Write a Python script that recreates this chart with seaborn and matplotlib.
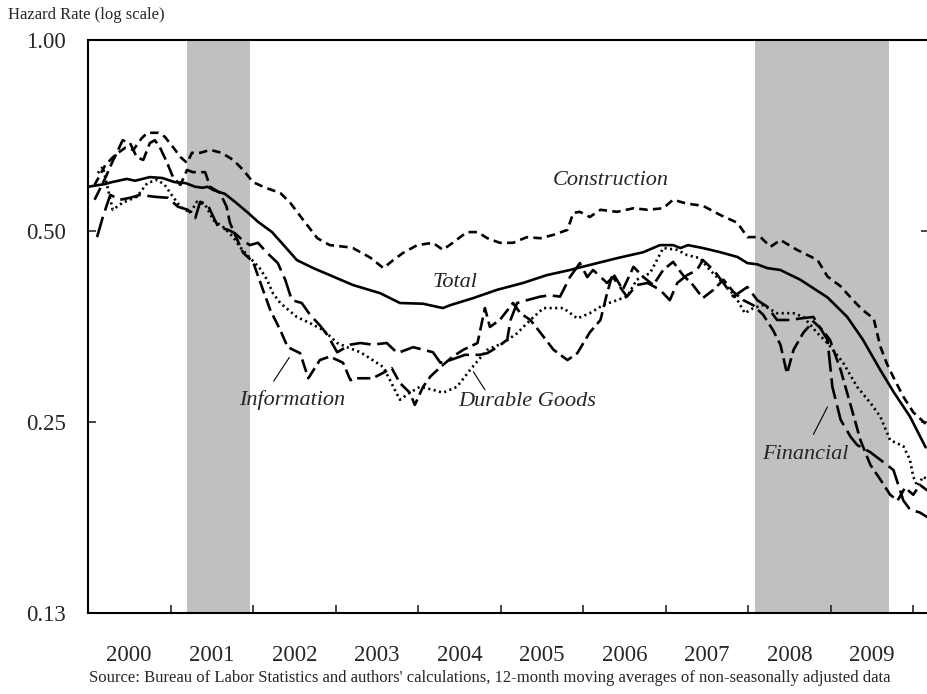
import matplotlib
matplotlib.use("Agg")
import matplotlib.pyplot as plt
import matplotlib.ticker as mticker
import pandas as pd
import seaborn as sns

# decimal years and hazard rates
total_x = [2000.00, 2000.21, 2000.29, 2000.47, 2000.57, 2000.75, 2000.90, 2001.05, 2001.18, 2001.30,
           2001.39, 2001.45, 2001.52, 2001.66, 2001.78, 2001.94, 2002.06, 2002.23, 2002.39, 2002.53,
           2002.73, 2002.93, 2003.21, 2003.54, 2003.78, 2004.06, 2004.30, 2004.39, 2004.67, 2004.96,
           2005.27, 2005.56, 2005.84, 2006.08, 2006.41, 2006.73, 2006.93, 2007.09, 2007.18, 2007.27,
           2007.45, 2007.66, 2007.87, 2007.99, 2008.11, 2008.23, 2008.39, 2008.63, 2008.96, 2009.20,
           2009.39, 2009.60, 2009.76, 2009.96, 2010.15]
total_y = [0.587, 0.593, 0.597, 0.604, 0.600, 0.608, 0.606, 0.597, 0.595, 0.587,
           0.585, 0.587, 0.580, 0.572, 0.556, 0.534, 0.517, 0.498, 0.472, 0.450,
           0.437, 0.426, 0.411, 0.399, 0.385, 0.384, 0.378, 0.382, 0.392, 0.404,
           0.414, 0.426, 0.434, 0.442, 0.453, 0.463, 0.475, 0.475, 0.470, 0.475,
           0.470, 0.463, 0.455, 0.445, 0.443, 0.437, 0.434, 0.419, 0.393, 0.366,
           0.337, 0.302, 0.279, 0.255, 0.228]

constr_x = [2000.08, 2000.21, 2000.33, 2000.45, 2000.55, 2000.65, 2000.72, 2000.85, 2000.93, 2001.03,
            2001.12, 2001.20, 2001.26, 2001.36, 2001.48, 2001.62, 2001.76, 2001.88, 2002.00, 2002.15,
            2002.33, 2002.45, 2002.61, 2002.78, 2002.93, 2003.12, 2003.21, 2003.42, 2003.58, 2003.70,
            2003.82, 2003.99, 2004.18, 2004.30, 2004.42, 2004.59, 2004.72, 2004.84, 2004.99, 2005.15,
            2005.32, 2005.48, 2005.64, 2005.81, 2005.88, 2005.96, 2006.08, 2006.21, 2006.41, 2006.61,
            2006.78, 2006.97, 2007.09, 2007.26, 2007.45, 2007.66, 2007.87, 2007.99, 2008.15, 2008.27,
            2008.39, 2008.59, 2008.84, 2008.96, 2009.12, 2009.27, 2009.39, 2009.52, 2009.60, 2009.68,
            2009.76, 2009.88, 2010.00, 2010.17]
constr_y = [0.591, 0.635, 0.659, 0.676, 0.671, 0.700, 0.714, 0.714, 0.704, 0.678,
            0.654, 0.640, 0.664, 0.664, 0.671, 0.664, 0.647, 0.624, 0.597, 0.585,
            0.574, 0.554, 0.520, 0.487, 0.475, 0.472, 0.470, 0.454, 0.437, 0.450,
            0.462, 0.475, 0.479, 0.467, 0.479, 0.498, 0.498, 0.487, 0.479, 0.479,
            0.489, 0.487, 0.493, 0.502, 0.534, 0.536, 0.526, 0.540, 0.536, 0.543,
            0.540, 0.543, 0.560, 0.552, 0.548, 0.530, 0.515, 0.489, 0.489, 0.472,
            0.484, 0.467, 0.450, 0.424, 0.409, 0.389, 0.375, 0.364, 0.329, 0.309,
            0.294, 0.274, 0.259, 0.247]

info_x = [2000.08, 2000.21, 2000.29, 2000.35, 2000.42, 2000.51, 2000.59, 2000.67, 2000.75, 2000.81,
          2000.87, 2000.96, 2001.03, 2001.12, 2001.20, 2001.27, 2001.42, 2001.48, 2001.60, 2001.68,
          2001.72, 2001.81, 2001.88, 2002.00, 2002.12, 2002.21, 2002.33, 2002.42, 2002.57, 2002.67,
          2002.81, 2002.93, 2003.09, 2003.18, 2003.26, 2003.45, 2003.58, 2003.68, 2003.78, 2003.90,
          2003.96, 2004.06, 2004.15, 2004.27, 2004.42, 2004.55, 2004.72, 2004.81, 2004.87, 2004.99,
          2005.15, 2005.24, 2005.36, 2005.48, 2005.64, 2005.81, 2005.93, 2006.08, 2006.21, 2006.29,
          2006.36, 2006.48, 2006.61, 2006.73, 2006.85, 2006.97, 2007.09, 2007.21, 2007.33, 2007.45,
          2007.58, 2007.70, 2007.82, 2007.94, 2008.06, 2008.18, 2008.30, 2008.39, 2008.47, 2008.55,
          2008.67, 2008.79, 2008.90, 2008.99, 2009.12, 2009.24, 2009.36, 2009.48, 2009.60, 2009.72,
          2009.81, 2009.90, 2010.00, 2010.08, 2010.17]
info_y = [0.560, 0.606, 0.640, 0.664, 0.695, 0.688, 0.654, 0.647, 0.688, 0.695,
          0.678, 0.640, 0.608, 0.591, 0.624, 0.619, 0.619, 0.587, 0.574, 0.546,
          0.515, 0.484, 0.462, 0.447, 0.404, 0.375, 0.349, 0.328, 0.321, 0.293,
          0.313, 0.317, 0.310, 0.291, 0.293, 0.293, 0.299, 0.304, 0.288, 0.278,
          0.266, 0.284, 0.295, 0.305, 0.317, 0.325, 0.333, 0.378, 0.353, 0.362,
          0.385, 0.371, 0.362, 0.346, 0.325, 0.313, 0.321, 0.346, 0.362, 0.399,
          0.429, 0.404, 0.439, 0.423, 0.411, 0.434, 0.447, 0.426, 0.411, 0.392,
          0.404, 0.419, 0.401, 0.389, 0.382, 0.369, 0.349, 0.331, 0.298, 0.325,
          0.346, 0.360, 0.349, 0.337, 0.302, 0.266, 0.234, 0.214, 0.203, 0.192,
          0.188, 0.197, 0.192, 0.199, 0.195]

durable_x = [2000.12, 2000.18, 2000.30, 2000.42, 2000.59, 2000.72, 2000.84, 2000.93, 2001.03, 2001.12,
             2001.24, 2001.32, 2001.42, 2001.52, 2001.64, 2001.76, 2001.84, 2001.96, 2002.08, 2002.17,
             2002.24, 2002.33, 2002.53, 2002.69, 2002.85, 2003.02, 2003.14, 2003.30, 2003.45, 2003.58,
             2003.70, 2003.78, 2003.90, 2004.02, 2004.18, 2004.30, 2004.47, 2004.63, 2004.73, 2004.84,
             2005.03, 2005.20, 2005.36, 2005.52, 2005.76, 2005.93, 2006.08, 2006.24, 2006.41, 2006.53,
             2006.65, 2006.81, 2006.97, 2007.14, 2007.26, 2007.42, 2007.50, 2007.62, 2007.75, 2007.87,
             2007.96, 2008.06, 2008.18, 2008.35, 2008.55, 2008.67, 2008.84, 2008.96, 2009.15, 2009.32,
             2009.48, 2009.60, 2009.72, 2009.88, 2009.96, 2010.00, 2010.05, 2010.12, 2010.17]
durable_y = [0.617, 0.631, 0.540, 0.554, 0.566, 0.595, 0.602, 0.591, 0.566, 0.546,
             0.534, 0.556, 0.550, 0.520, 0.507, 0.489, 0.472, 0.454, 0.437, 0.419,
             0.399, 0.385, 0.366, 0.358, 0.349, 0.333, 0.328, 0.322, 0.313, 0.305,
             0.284, 0.271, 0.278, 0.284, 0.281, 0.278, 0.284, 0.302, 0.313, 0.325,
             0.333, 0.345, 0.362, 0.378, 0.378, 0.364, 0.371, 0.382, 0.389, 0.394,
             0.419, 0.429, 0.470, 0.467, 0.458, 0.453, 0.439, 0.423, 0.408, 0.389,
             0.371, 0.378, 0.382, 0.371, 0.371, 0.366, 0.345, 0.333, 0.310, 0.284,
             0.268, 0.255, 0.234, 0.229, 0.218, 0.205, 0.198, 0.205, 0.203]

fin_x = [2000.11, 2000.18, 2000.27, 2000.39, 2000.51, 2000.63, 2000.81, 2000.97, 2001.09, 2001.21,
         2001.30, 2001.36, 2001.45, 2001.52, 2001.58, 2001.70, 2001.78, 2001.87, 2001.96, 2002.06,
         2002.17, 2002.30, 2002.39, 2002.47, 2002.59, 2002.69, 2002.81, 2002.90, 2003.02, 2003.18,
         2003.30, 2003.45, 2003.62, 2003.75, 2003.94, 2004.06, 2004.18, 2004.27, 2004.39, 2004.57,
         2004.75, 2004.84, 2004.96, 2005.08, 2005.12, 2005.20, 2005.32, 2005.48, 2005.60, 2005.72,
         2005.84, 2005.96, 2006.05, 2006.12, 2006.29, 2006.36, 2006.53, 2006.65, 2006.78, 2006.93,
         2007.05, 2007.14, 2007.26, 2007.38, 2007.45, 2007.58, 2007.70, 2007.82, 2007.99, 2008.11,
         2008.23, 2008.35, 2008.51, 2008.63, 2008.79, 2008.96, 2009.02, 2009.12, 2009.24, 2009.32,
         2009.48, 2009.60, 2009.76, 2009.88, 2009.96, 2010.08, 2010.17]
fin_y = [0.489, 0.526, 0.570, 0.560, 0.564, 0.570, 0.566, 0.564, 0.546, 0.540,
         0.524, 0.556, 0.550, 0.526, 0.507, 0.502, 0.496, 0.484, 0.475, 0.479,
         0.462, 0.445, 0.419, 0.389, 0.385, 0.369, 0.355, 0.343, 0.322, 0.331,
         0.333, 0.331, 0.333, 0.321, 0.328, 0.325, 0.322, 0.310, 0.313, 0.319,
         0.319, 0.321, 0.328, 0.337, 0.362, 0.385, 0.389, 0.394, 0.396, 0.394,
         0.423, 0.445, 0.423, 0.434, 0.414, 0.423, 0.394, 0.411, 0.414, 0.404,
         0.389, 0.414, 0.426, 0.434, 0.450, 0.434, 0.414, 0.394, 0.408, 0.389,
         0.380, 0.362, 0.362, 0.364, 0.366, 0.337, 0.284, 0.252, 0.237, 0.230,
         0.224, 0.218, 0.210, 0.188, 0.182, 0.180, 0.177]

recessions = [(2001.20, 2001.96), (2008.08, 2009.70)]
y_ticks = [0.125, 0.25, 0.5, 1.0]
y_labels = ["0.13", "0.25", "0.50", "1.00"]
years = list(range(2000, 2010))

frames = []
for name, xs, ys in [("Total", total_x, total_y), ("Construction", constr_x, constr_y),
                     ("Information", info_x, info_y), ("Durable Goods", durable_x, durable_y),
                     ("Financial", fin_x, fin_y)]:
    frames.append(pd.DataFrame({"year": xs, "rate": ys, "series": name}))
df = pd.concat(frames, ignore_index=True)

sns.set_style("white")
plt.rcParams["font.family"] = ["Liberation Serif", "DejaVu Serif"]

fig = plt.figure(figsize=(9.27, 6.94), dpi=100)
ax = fig.add_axes([0.0949, 0.1167, 0.9072, 0.8257])

for start, end in recessions:
    ax.axvspan(start, end, color="#c0c0c0", lw=0, zorder=0)

dash_map = {"Total": "", "Construction": (3.2, 2.0), "Information": (5.0, 2.0),
            "Durable Goods": (0.8, 1.3), "Financial": (8.0, 2.5)}
sns.lineplot(data=df, x="year", y="rate", style="series", dashes=dash_map, color="black",
             linewidth=1.9, estimator=None, sort=False, legend=False, ax=ax)

ax.set_yscale("log")
ax.set_ylim(0.125, 1.0)
ax.set_xlim(2000, 2010.19)
ax.set_yticks(y_ticks, labels=y_labels)
ax.yaxis.set_minor_locator(mticker.NullLocator())
ax.set_xticks(list(range(2001, 2011)), labels=[""] * 10)
ax.set_xticks([y + 0.5 for y in years], labels=[str(y) for y in years], minor=True)
ax.tick_params(axis="x", which="major", direction="in", length=6, width=1.2, bottom=True)
ax.tick_params(axis="x", which="minor", length=0, pad=23, labelsize=16.5)
ax.tick_params(axis="y", which="major", direction="in", length=6, width=1.2,
               left=True, right=True, pad=16, labelsize=16.5)
ax.set_xlabel("")
ax.set_ylabel("")
for side in ax.spines.values():
    side.set_color("black")
    side.set_linewidth(1.5)

lab = dict(fontsize=16, fontstyle="italic", ha="center", va="center")
ax.text(2006.33, 0.600, "Construction", **lab)
ax.text(2004.45, 0.415, "Total", **lab)
ax.text(2002.48, 0.271, "Information", **lab)
ax.text(2005.32, 0.269, "Durable Goods", **lab)
ax.text(2008.69, 0.222, "Financial", **lab)

lead = dict(arrowstyle="-", lw=0.8, color="black", shrinkA=0, shrinkB=0)
ax.annotate("", xy=(2002.44, 0.316), xytext=(2002.25, 0.290), arrowprops=lead)
ax.annotate("", xy=(2004.67, 0.300), xytext=(2004.81, 0.281), arrowprops=lead)
ax.annotate("", xy=(2008.96, 0.264), xytext=(2008.79, 0.239), arrowprops=lead)

fig.text(8 / 927, 1 - 15 / 694, "Hazard Rate (log scale)", fontsize=12, ha="left", va="center")
fig.text(490 / 927, 1 - 678 / 694,
         "Source: Bureau of Labor Statistics and authors' calculations, 12-month moving averages "
         "of non-seasonally adjusted data", fontsize=12, ha="center", va="center")

fig.savefig("out.png", dpi=100)
